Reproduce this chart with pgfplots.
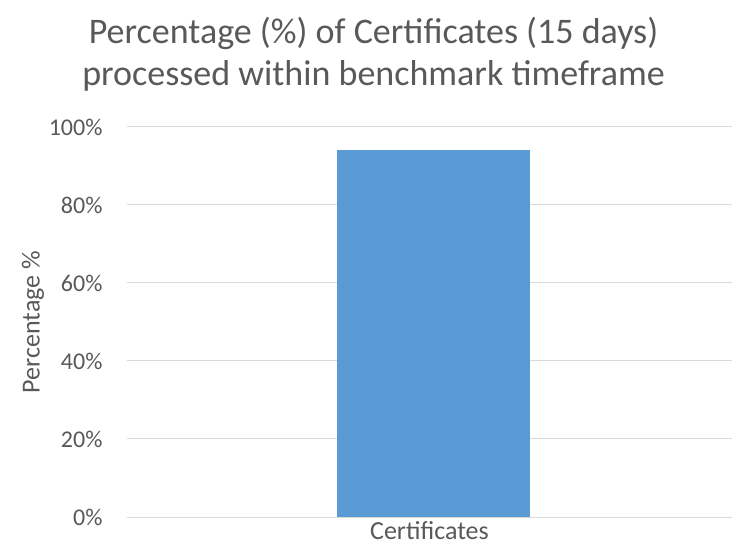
\documentclass[border=0pt]{standalone}
\usepackage{fontspec}
\setmainfont{Carlito}
\usepackage{pgfplots}
\pgfplotsset{compat=1.18}
\usetikzlibrary{calc}
\definecolor{barblue}{HTML}{5B9BD5}
\definecolor{gridgray}{HTML}{D9D9D9}
\definecolor{txtgray}{HTML}{595959}
\begin{document}
\begin{tikzpicture}
\begin{axis}[
    name=ax,
    scale only axis,
    width=605bp,
    height=390bp,
    xmin=-1, xmax=1,
    ymin=0, ymax=100,
    ytick={0,20,40,60,80,100},
    yticklabels={0\%,20\%,40\%,60\%,80\%,100\%},
    xtick={0},
    xticklabels={Certificates},
    major tick length=0pt,
    axis line style={draw=none},
    ymajorgrids,
    grid style={gridgray, line width=1bp},
    ticklabel style={font=\fontsize{26bp}{30bp}\selectfont, text=txtgray},
    yticklabel style={font=\fontsize{24bp}{28bp}\selectfont, xshift=-21bp},
    xticklabel style={yshift=-1bp},
    ylabel={Percentage \%},
    ylabel style={at={(axis description cs:0,0.5)}, anchor=center, yshift=94bp,
      font=\fontsize{26bp}{30bp}\selectfont, text=txtgray},
    title={Percentage (\%) of Certificates (15 days)\\processed within benchmark timeframe},
    title style={at={(0.5,1)}, anchor=north, xshift=-56bp, yshift=104bp, align=center, inner sep=0pt,
      font=\fontsize{36bp}{42bp}\selectfont, text=txtgray},
    clip=false,
]
\addplot[ybar, bar width=193bp, fill=barblue, draw=none, bar shift=0pt]
coordinates {(0.013,94.1)};
\end{axis}
\path[use as bounding box] ($(ax.south west)+(-127bp,-30bp)$) rectangle ($(ax.north east)+(1bp,127bp)$);
\end{tikzpicture}
\end{document}
